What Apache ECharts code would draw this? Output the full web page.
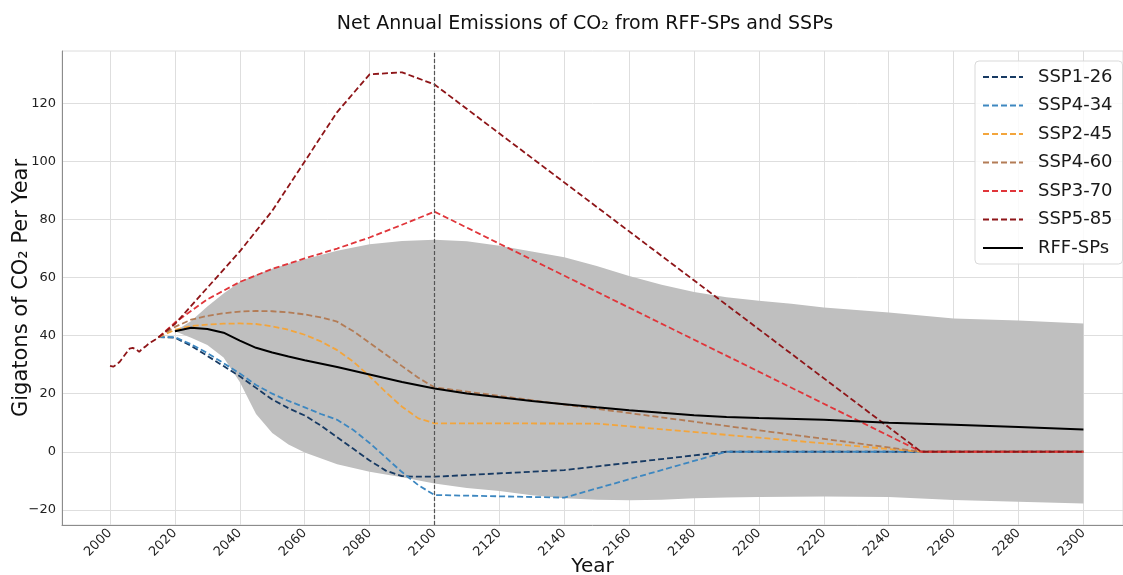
<!DOCTYPE html>
<html>
<head>
<meta charset="utf-8">
<script src="https://cdn.jsdelivr.net/npm/echarts@6/dist/echarts.min.js"></script>
<style>
  html, body { margin: 0; padding: 0; background: #fff; }
  #chart { width: 1123px; height: 575px; }
</style>
</head>
<body>
<div id="chart"></div>
<script>
// Axis ticks
const xTicks = [2000, 2020, 2040, 2060, 2080, 2100, 2120, 2140, 2160, 2180, 2200, 2220, 2240, 2260, 2280, 2300];
const yTicks = [-20, 0, 20, 40, 60, 80, 100, 120];
const markerYear = 2100;

// Historical net emissions (drawn with SSP5-85)
const histYears  = [2000, 2001, 2002, 2003, 2004, 2005, 2006, 2007, 2008, 2009, 2010, 2011, 2012, 2013, 2014, 2015];
const histValues = [29.6, 29.3, 30.0, 31.0, 32.5, 34.0, 35.5, 35.8, 35.3, 34.4, 35.6, 36.3, 37.3, 38.0, 38.7, 39.5];

// SSP pathways (GtCO2 / yr)
const ssp126Years = [2015, 2020, 2025, 2030, 2035, 2040, 2045, 2050, 2055, 2060, 2065, 2070, 2075, 2080, 2085, 2090, 2095, 2100, 2140, 2190, 2250, 2300];
const ssp126      = [39.5, 39.3, 36.5, 33.0, 29.5, 26.0, 22.0, 18.0, 15.0, 12.5, 9.0, 5.0, 1.0, -3.0, -6.5, -8.4, -8.6, -8.6, -6.3, 0, 0, 0];

const ssp434Years = [2015, 2020, 2025, 2030, 2035, 2040, 2045, 2050, 2055, 2060, 2065, 2070, 2075, 2080, 2085, 2090, 2095, 2100, 2140, 2190, 2250, 2300];
const ssp434      = [39.5, 39.5, 37.0, 34.0, 30.5, 27.0, 23.0, 20.0, 17.5, 15.3, 13.0, 11.0, 7.5, 3.0, -2.0, -7.0, -11.5, -14.9, -15.8, 0, 0, 0];

const ssp245Years = [2015, 2020, 2025, 2030, 2035, 2040, 2045, 2050, 2055, 2060, 2065, 2070, 2075, 2080, 2085, 2090, 2095, 2100, 2150, 2250, 2300];
const ssp245      = [39.5, 42.0, 43.3, 43.8, 44.1, 44.2, 44.0, 43.2, 42.0, 40.3, 38.0, 35.0, 31.0, 26.0, 20.5, 15.5, 11.5, 9.8, 9.7, 0, 0];

const ssp460Years = [2015, 2020, 2025, 2030, 2035, 2040, 2045, 2050, 2055, 2060, 2065, 2070, 2075, 2080, 2085, 2090, 2095, 2100, 2250, 2300];
const ssp460      = [39.5, 43.0, 45.5, 46.8, 47.7, 48.3, 48.5, 48.4, 48.0, 47.3, 46.3, 44.8, 41.5, 37.5, 33.5, 29.5, 25.5, 22.2, 0, 0];

const ssp370Years = [2015, 2020, 2030, 2040, 2050, 2060, 2070, 2080, 2090, 2100, 2250, 2300];
const ssp370      = [39.5, 44.5, 52.5, 58.5, 63.0, 66.6, 70.0, 73.8, 78.2, 82.7, 0, 0];

const ssp585Years = [2020, 2030, 2040, 2050, 2060, 2070, 2080, 2090, 2100, 2250, 2300];
const ssp585      = [44.0, 56.5, 69.0, 83.0, 100.0, 117.0, 130.0, 130.7, 126.5, 0, 0];

// RFF-SPs median
const rffYears  = [2020, 2025, 2030, 2035, 2040, 2045, 2050, 2055, 2060, 2070, 2080, 2090, 2100, 2110, 2120, 2130, 2140, 2150, 2160, 2170, 2180, 2190, 2200, 2220, 2240, 2260, 2280, 2300];
const rffMedian = [41.5, 42.7, 42.3, 41.0, 38.3, 35.8, 34.2, 32.8, 31.5, 29.2, 26.6, 24.0, 21.8, 20.1, 18.8, 17.5, 16.4, 15.3, 14.3, 13.4, 12.6, 12.0, 11.6, 11.0, 10.0, 9.3, 8.5, 7.7];

// RFF-SPs uncertainty band
const bandYears = [2020, 2025, 2030, 2035, 2040, 2045, 2050, 2055, 2060, 2070, 2080, 2090, 2100, 2110, 2120, 2130, 2140, 2150, 2160, 2170, 2180, 2190, 2200, 2210, 2220, 2240, 2260, 2280, 2300];
const bandHigh  = [41.5, 45.0, 50.0, 54.5, 58.5, 61.0, 63.0, 64.8, 66.3, 69.2, 71.5, 72.6, 73.0, 72.5, 71.0, 69.0, 67.0, 64.0, 60.5, 57.5, 55.0, 53.2, 52.0, 51.0, 49.7, 48.0, 45.9, 45.2, 44.2];
const bandLow   = [41.5, 39.3, 36.8, 32.5, 24.0, 13.0, 6.5, 2.5, -0.3, -4.3, -6.9, -8.8, -10.9, -12.5, -13.5, -15.0, -16.0, -16.5, -16.7, -16.5, -16.0, -15.8, -15.6, -15.5, -15.4, -15.6, -16.6, -17.2, -17.8];

const FONT = 'DejaVu Sans';
const pairs = (xs, ys) => xs.map((x, i) => [x, ys[i]]);

function dashed(name, color, data) {
  return {
    name, type: 'line', data, symbol: 'none', smooth: false,
    lineStyle: { color, width: 1.8, type: [6, 3] },
    itemStyle: { color, opacity: 0 },
    emphasis: { disabled: true }
  };
}

const chart = echarts.init(document.getElementById('chart'), null, { renderer: 'canvas' });

chart.setOption({
  animation: false,
  backgroundColor: '#ffffff',
  title: {
    text: 'Net Annual Emissions of CO₂ from RFF-SPs and SSPs',
    left: 580, top: 10, textAlign: 'center',
    textStyle: { fontFamily: FONT, fontSize: 19, fontWeight: 'normal', color: '#111' }
  },
  grid: {
    left: 62, right: 0, top: 51, bottom: 50,
    containLabel: false, outerBoundsMode: 'none',
    show: true, borderColor: '#dcdcdc', borderWidth: 1
  },
  legend: {
    data: ['SSP1-26', 'SSP4-34', 'SSP2-45', 'SSP4-60', 'SSP3-70', 'SSP5-85', 'RFF-SPs'],
    orient: 'vertical', left: 975, top: 61,
    padding: [7, 10, 7, 7], itemGap: 10.5, itemWidth: 40, itemHeight: 14,
    itemStyle: { opacity: 0 },
    backgroundColor: 'rgba(255,255,255,0.85)', borderColor: '#d9d9d9', borderWidth: 1, borderRadius: 4,
    textStyle: { fontFamily: FONT, fontSize: 18, color: '#1a1a1a', padding: [0, 0, 0, 10] }
  },
  xAxis: {
    type: 'value', min: 1985.2, max: 2312.2,
    name: 'Year', nameLocation: 'middle', nameGap: 32, nameMoveOverlap: false,
    nameTextStyle: { fontFamily: FONT, fontSize: 20, color: '#111' },
    axisLine: { show: true, onZero: false, lineStyle: { color: '#8c8c8c', width: 1 } },
    axisTick: { show: false, customValues: xTicks },
    axisLabel: {
      customValues: xTicks, rotate: 45, margin: 6,
      fontFamily: FONT, fontSize: 13, color: '#222',
      formatter: v => String(v)
    },
    splitLine: { show: true, lineStyle: { color: '#dedede', width: 1 } }
  },
  yAxis: {
    type: 'value', min: -25.23, max: 138.04,
    name: 'Gigatons of CO₂ Per Year', nameLocation: 'middle', nameGap: 30, nameMoveOverlap: false,
    nameTextStyle: { fontFamily: FONT, fontSize: 21, color: '#111' },
    axisLine: { show: true, lineStyle: { color: '#8c8c8c', width: 1 } },
    axisTick: { show: false, customValues: yTicks },
    axisLabel: {
      customValues: yTicks, margin: 6,
      fontFamily: FONT, fontSize: 13, color: '#222',
      formatter: v => String(v).replace('-', '\u2212')
    },
    splitLine: { show: true, lineStyle: { color: '#dedede', width: 1 } }
  },
  series: [
    {
      name: 'band', type: 'custom', silent: true, clip: true,
      data: bandYears.map((y, i) => [y, bandLow[i], bandHigh[i]]),
      encode: { x: 0, y: [1, 2] },
      renderItem: (params, api) => {
        if (params.dataIndex !== 0) return null;
        const pts = [];
        for (let i = 0; i < bandYears.length; i++) pts.push(api.coord([bandYears[i], bandHigh[i]]));
        for (let i = bandYears.length - 1; i >= 0; i--) pts.push(api.coord([bandYears[i], bandLow[i]]));
        return { type: 'polygon', shape: { points: pts }, style: { fill: '#bfbfbf', stroke: null } };
      }
    },
    dashed('SSP1-26', '#173a63', pairs(ssp126Years, ssp126)),
    dashed('SSP4-34', '#3d87c0', pairs(ssp434Years, ssp434)),
    dashed('SSP2-45', '#f3a53c', pairs(ssp245Years, ssp245)),
    dashed('SSP4-60', '#b37c56', pairs(ssp460Years, ssp460)),
    dashed('SSP3-70', '#e0353a', pairs(ssp370Years, ssp370)),
    dashed('SSP5-85', '#8e1518', pairs(histYears, histValues).concat(pairs(ssp585Years, ssp585))),
    {
      name: 'RFF-SPs', type: 'line', data: pairs(rffYears, rffMedian), symbol: 'none',
      lineStyle: { color: '#000', width: 2 }, itemStyle: { color: '#000', opacity: 0 },
      emphasis: { disabled: true },
      markLine: {
        silent: true, symbol: ['none', 'none'], label: { show: false },
        lineStyle: { color: '#555', width: 1.2, type: [4, 2] },
        data: [{ xAxis: markerYear }]
      }
    }
  ]
});
</script>
</body>
</html>
